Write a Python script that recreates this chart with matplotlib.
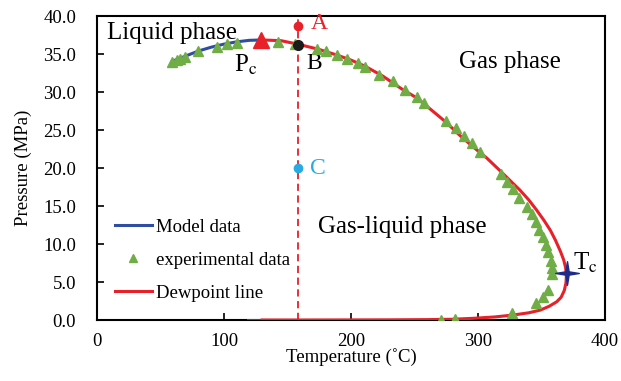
import matplotlib
matplotlib.use("Agg")
import matplotlib.pyplot as plt
from matplotlib.path import Path

plt.rcParams["font.family"] = ["Liberation Serif", "DejaVu Serif"]
plt.rcParams["mathtext.fontset"] = "stix"

# Model (bubble side) curve
model_T = [60, 65, 70, 80, 90, 100, 110, 120, 130]
model_P = [34.1, 34.4, 34.75, 35.4, 35.9, 36.3, 36.6, 36.8, 36.85]
model_low_T = [119, 130]
model_low_P = [0.0, 0.0]

# Dewpoint line
dew_T = [130, 145, 158, 175, 190, 200, 211, 225, 240, 252, 265, 275, 285,
         296, 307, 317, 325, 333, 340, 346, 352, 357, 361, 365, 367.5, 369,
         369.6, 369.3, 368, 365.5, 362, 356, 349, 340, 328, 313, 296, 280,
         260, 230, 200, 160, 130]
dew_P = [36.85, 36.75, 36.3, 35.6, 34.8, 34.2, 33.4, 32.1, 30.4, 29.2, 27.4,
         26.0, 24.4, 22.8, 21.3, 19.7, 18.4, 17.1, 15.8, 14.5, 13.1, 11.8,
         10.5, 9.0, 7.9, 6.9, 5.8, 4.9, 3.9, 3.0, 2.4, 1.8, 1.3, 0.95, 0.66,
         0.4, 0.22, 0.1, 0.05, 0.02, 0.01, 0.0, 0.0]

# Experimental measurements
exp_T = [58.8, 62.8, 65.4, 69.3, 79.8, 94.3, 102.6, 110.5, 142.3, 156, 173,
         180.3, 189.2, 197.1, 205.8, 211, 222.3, 233.3, 242.5, 251.7, 257.5,
         274.8, 282.7, 289, 295, 301.6, 318.3, 322.6, 327.8, 332.5, 338.3,
         342.3, 345.7, 348.3, 351, 353.5, 355.4, 357.2, 358, 358, 355.4, 351,
         345.7, 326.5, 281.9, 270.6]
exp_P = [33.9, 34.2, 34.4, 34.6, 35.4, 35.96, 36.3, 36.5, 36.6, 36.3, 35.7,
         35.4, 34.9, 34.4, 33.8, 33.3, 32.3, 31.4, 30.2, 29.35, 28.6, 26.2,
         25.2, 24.2, 23.3, 22.1, 19.15, 18.2, 17.2, 16.1, 14.9, 14.0, 12.9,
         11.9, 10.9, 9.9, 8.9, 7.8, 6.9, 6.05, 3.9, 3.0, 2.2, 0.96, 0.1, 0.0]

# Special points
Tx = 158
A_P, B_P, C_P = 38.7, 36.2, 20.0
Pc_T, Pc_P = 129, 36.85
Tc_T, Tc_P = 369.8, 6.2

xticks = [0, 100, 200, 300, 400]
yticks = [0, 5, 10, 15, 20, 25, 30, 35, 40]

BLUE = "#2f4ea3"
RED = "#e8202a"
GREEN = "#70ad47"
CYAN = "#29abe2"
NAVY = "#1f2a8a"

# slender four-pointed star marker
k = 0.14
star4 = Path([(0, 1), (k, k), (1, 0), (k, -k), (0, -1), (-k, -k), (-1, 0),
              (-k, k), (0, 1)], closed=True)

fig = plt.figure(figsize=(6.21, 3.81), dpi=100)
ax = fig.add_axes([0.1562, 0.1601, 0.8180, 0.7979])

ax.axvline(Tx, color=RED, lw=1.3, ls=(0, (4, 2.5)), zorder=2)

ax.plot(model_T, model_P, color=BLUE, lw=2.2, zorder=3, label="Model data")
ax.plot(model_low_T, model_low_P, color=BLUE, lw=2.2, zorder=3)
ax.plot(exp_T, exp_P, ls="none", marker="^", ms=6.5, color=GREEN,
        mec=GREEN, zorder=5, label="experimental data")
ax.plot(dew_T, dew_P, color=RED, lw=2.2, zorder=4, label="Dewpoint line")

ax.plot([Tx], [A_P], "o", color=RED, ms=6, zorder=6)
ax.plot([Tx], [B_P], "o", color="#1a1a1a", ms=7, zorder=6)
ax.plot([Tx], [C_P], "o", color=CYAN, ms=6, zorder=6)
ax.plot([Pc_T], [Pc_P], "^", color=RED, ms=12, zorder=6)
ax.plot([Tc_T], [Tc_P], marker=star4, color=NAVY, ms=17, zorder=6)

ax.text(Tx + 10, A_P + 0.3, "A", color=RED, fontsize=17, va="center")
ax.text(Tx + 7, B_P - 2.4, "B", color="black", fontsize=17, va="center")
ax.text(Tx + 10, C_P, "C", color=CYAN, fontsize=17, va="center")
ax.text(Pc_T - 21, Pc_P - 3.3, r"P$_\mathrm{c}$", color="black", fontsize=18,
        va="center")
ax.text(Tc_T + 5, Tc_P + 1.3, r"T$_\mathrm{c}$", color="black", fontsize=18,
        va="center")

ax.text(8, 37.8, "Liquid phase", fontsize=18, va="center")
ax.text(285, 33.9, "Gas phase", fontsize=18, va="center")
ax.text(174, 12.2, "Gas-liquid phase", fontsize=18, va="center")

ax.set_xlim(0, 400)
ax.set_ylim(0, 40)
ax.set_xticks(xticks)
ax.set_yticks(yticks)
ax.set_yticklabels([f"{v:.1f}" for v in yticks])
ax.tick_params(direction="in", length=5, width=1.2, labelsize=13.5,
               top=False, right=False)
ax.tick_params(axis="y", pad=15)
ax.tick_params(axis="x", pad=9)
for s in ax.spines.values():
    s.set_linewidth(1.5)

ax.set_xlabel("Temperature (˚C)", fontsize=13.5, labelpad=-1)
ax.set_ylabel("Pressure (MPa)", fontsize=13.5, labelpad=8)

ax.legend(loc="lower left", bbox_to_anchor=(0.02, 0.036), frameon=False,
          fontsize=13.5, handlelength=2.0, handletextpad=0.2,
          labelspacing=0.84, borderaxespad=0.0, markerscale=0.8)

fig.savefig("out.png", dpi=100)
